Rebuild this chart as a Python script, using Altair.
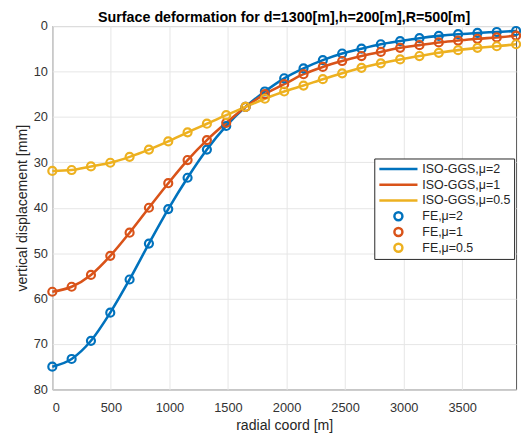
import altair as alt
import pandas as pd

step = 165
radial = [i * step for i in range(25)]

iso_mu2 = [75.0, 73.3, 69.3, 63.1, 55.8, 47.9, 40.3, 33.4, 27.2, 22.0,
           17.8, 14.4, 11.5, 9.3, 7.5, 6.05, 4.97, 4.0, 3.3, 2.66,
           2.16, 1.79, 1.51, 1.30, 1.08]
iso_mu1 = [58.5, 57.4, 54.8, 50.6, 45.5, 40.0, 34.6, 29.5, 25.1, 21.3,
           17.8, 15.0, 12.8, 10.6, 9.0, 7.7, 6.6, 5.7, 4.8, 4.2,
           3.6, 3.2, 2.8, 2.5, 2.1]
iso_mu05 = [31.9, 31.7, 30.9, 30.1, 28.8, 27.2, 25.4, 23.4, 21.5, 19.6,
            17.8, 16.0, 14.4, 13.1, 11.7, 10.4, 9.2, 8.2, 7.35, 6.6,
            5.9, 5.3, 4.8, 4.45, 4.0]
# FE results coincide with the analytic curves at the plotted nodes
fe_mu2 = list(iso_mu2)
fe_mu1 = list(iso_mu1)
fe_mu05 = list(iso_mu05)

line_names = ["ISO-GGS,μ=2", "ISO-GGS,μ=1", "ISO-GGS,μ=0.5"]
fe_names = ["FE,μ=2", "FE,μ=1", "FE,μ=0.5"]
all_names = line_names + fe_names
colors = ["#0072BD", "#D95319", "#EDB120"] * 2

rows_line = []
for name, vals in zip(line_names, [iso_mu2, iso_mu1, iso_mu05]):
    for x, v in zip(radial, vals):
        rows_line.append({"r": x, "d": v, "series": name})
rows_fe = []
for name, vals in zip(fe_names, [fe_mu2, fe_mu1, fe_mu05]):
    for x, v in zip(radial, vals):
        rows_fe.append({"r": x, "d": v, "series": name})
df_line = pd.DataFrame(rows_line)
df_fe = pd.DataFrame(rows_fe)

circ = "M0,-0.21A0.21,0.21,0,1,1,0,0.21A0.21,0.21,0,1,1,0,-0.21Z"
shapes = ["stroke", "stroke", "stroke", circ, circ, circ]

xscale = alt.Scale(domain=[0, 3960], nice=False)
yscale = alt.Scale(domain=[0, 80], reverse=True, nice=False)
xaxis = alt.Axis(title="radial coord [m]", format="d",
                 values=[0, 500, 1000, 1500, 2000, 2500, 3000, 3500])
yaxis = alt.Axis(title="vertical displacement [mm]", format="d",
                 values=[0, 10, 20, 30, 40, 50, 60, 70, 80])
cscale = alt.Scale(domain=all_names, range=colors)
legend = alt.Legend(
    title=None, orient="none", legendX=327, legendY=134.5,
    symbolSize=1500, clipHeight=15.3, rowPadding=0, padding=3,
    symbolOffset=0.5, labelOffset=3.3, symbolStrokeWidth=2.5,
    strokeColor="#262626", fillColor="white",
    labelFontSize=12.6, labelColor="#262626", labelFont="Liberation Sans",
)

lines = alt.Chart(df_line).mark_line(interpolate="monotone", strokeWidth=2.6).encode(
    x=alt.X("r:Q", scale=xscale, axis=xaxis),
    y=alt.Y("d:Q", scale=yscale, axis=yaxis),
    color=alt.Color("series:N", scale=cscale, legend=legend),
    detail="series:N",
)
points = alt.Chart(df_fe).mark_point(filled=False, size=1500, strokeWidth=2.2, opacity=1).encode(
    x=alt.X("r:Q", scale=xscale, axis=xaxis),
    y=alt.Y("d:Q", scale=yscale, axis=yaxis),
    color=alt.Color("series:N", scale=cscale, legend=legend),
    shape=alt.Shape("series:N", scale=alt.Scale(domain=all_names, range=shapes), legend=legend),
)

chart = alt.layer(lines, points).properties(
    width=471, height=369,
    title=alt.Title("Surface deformation for d=1300[m],h=200[m],R=500[m]",
                    fontSize=14.5, fontWeight="bold", font="Liberation Sans",
                    color="black", offset=4, frame="group", dy=9),
    autosize=alt.AutoSizeParams(type="none"),
    padding={"left": 45, "top": 15, "right": 5, "bottom": 45},
).configure_view(
    stroke="#555555", strokeWidth=1
).configure_axis(
    domain=False, ticks=False, grid=True, gridColor="#e6e6e6", gridWidth=1,
    labelFont="Liberation Sans", labelFontSize=13, labelColor="#333333",
    titleFont="Liberation Sans", titleFontSize=14.3, titleFontWeight="normal",
    titleColor="#262626",
).configure_axisX(
    labelPadding=12, titlePadding=5
).configure_axisY(
    labelPadding=5, titlePadding=4
)

chart.save("out.html", embed_options={"renderer": "svg", "actions": False})
